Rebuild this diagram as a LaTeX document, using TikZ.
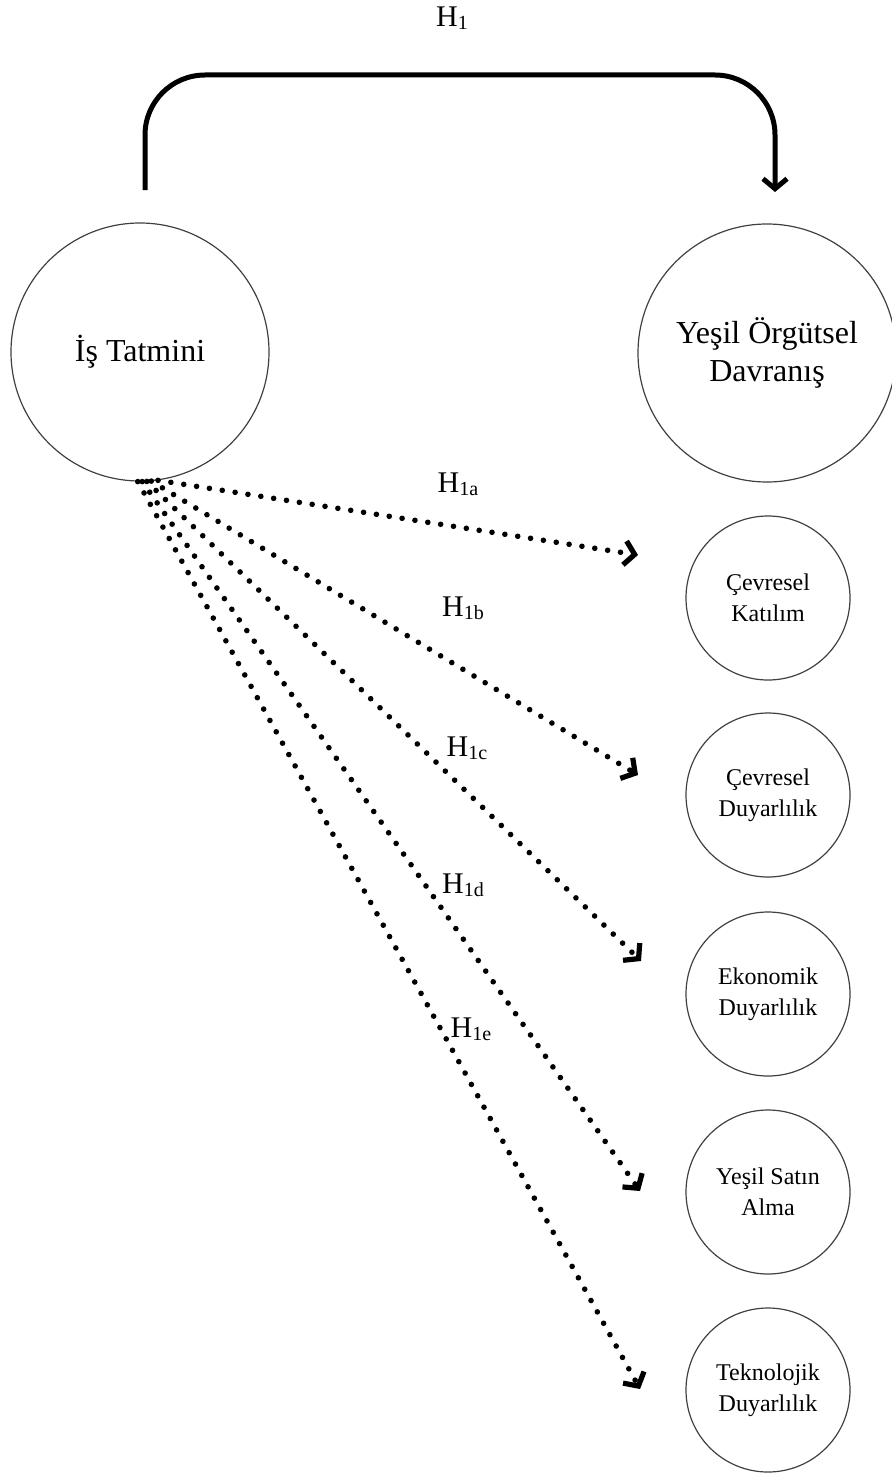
\documentclass[tikz,border=0pt]{standalone}
\usepackage{fontspec}
\setmainfont{Liberation Serif}
\usetikzlibrary{arrows.meta}
\newcommand{\hyp}[1]{H\raisebox{-1.5pt}{\fontsize{10}{12}\selectfont #1}}

\begin{document}
\begin{tikzpicture}[x=0.5pt, y=-0.5pt,
  mainvar/.style={circle, draw=black!75, line width=0.6pt, minimum size=129pt, inner sep=0pt, align=center, font=\fontsize{16}{19}\selectfont},
  subvar/.style={circle, draw=black!75, line width=0.6pt, minimum size=82pt, inner sep=0pt, align=center, font=\fontsize{12}{15.5}\selectfont},
  hlabel/.style={font=\fontsize{15}{18}\selectfont},
  dotarrow/.style={line width=2.8pt, line cap=round, dash pattern=on 0pt off 6.5pt, -{Straight Barb[length=5pt, width=12pt, line width=2.6pt]}}]
\useasboundingbox (0,0) rectangle (892,1477);
% variables
\node[mainvar] (it) at (140,352) {İş Tatmini};
\node[mainvar] (yod) at (767,353) {Yeşil Örgütsel\\Davranış};
\node[subvar] (ck) at (768,598) {Çevresel\\Katılım};
\node[subvar] (cd) at (768,795) {Çevresel\\Duyarlılık};
\node[subvar] (ed) at (768,994) {Ekonomik\\Duyarlılık};
\node[subvar] (ysa) at (768,1192) {Yeşil Satın\\Alma};
\node[subvar] (td) at (768,1390) {Teknolojik\\Duyarlılık};
% H1
\coordinate (h1from) at (145,190);
\coordinate (h1to) at (775,192);
\draw[line width=2.5pt, rounded corners=30pt, -{Straight Barb[length=5pt, width=12pt, line width=2.5pt]}]
  (h1from) -- ++(0,-115) -| (h1to);
\node[hlabel] (h1) at (452,18) {\hyp{1}};
% sub hypotheses
\coordinate (ta) at (638,555);
\coordinate (tb) at (638,775);
\coordinate (tc) at (641,961);
\coordinate (td) at (640,1191);
\coordinate (te) at (640,1389);
\draw[dotarrow] (it.-82) -- (ta);
\draw[dotarrow] (it.-85) -- (tb);
\draw[dotarrow] (it.-87) -- (tc);
\draw[dotarrow] (it.-89) -- (td);
\draw[dotarrow] (it.-91) -- (te);
\node[hlabel] (h1a) at (458,484) {\hyp{1a}};
\node[hlabel] (h1b) at (463,608) {\hyp{1b}};
\node[hlabel] (h1c) at (467,748) {\hyp{1c}};
\node[hlabel] (h1d) at (463,885) {\hyp{1d}};
\node[hlabel] (h1e) at (471,1029) {\hyp{1e}};
\end{tikzpicture}
\end{document}
